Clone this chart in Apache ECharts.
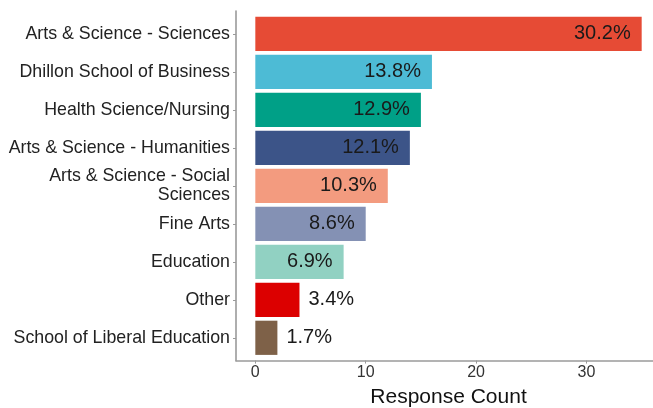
<!DOCTYPE html>
<html>
<head>
<meta charset="utf-8">
<script src="https://cdn.jsdelivr.net/npm/echarts@6/dist/echarts.min.js"></script>
<style>
  html, body { margin: 0; padding: 0; background: #fff; }
  #chart { width: 653px; height: 408px; }
</style>
</head>
<body>
<div id="chart"></div>
<script>
// Faculty / school of respondents, top to bottom
const faculties = [
  'Arts & Science - Sciences',
  'Dhillon School of Business',
  'Health Science/Nursing',
  'Arts & Science - Humanities',
  'Arts & Science - Social\nSciences',
  'Fine Arts',
  'Education',
  'Other',
  'School of Liberal Education'
];
const responseCounts = [35, 16, 15, 14, 12, 10, 8, 4, 2];
const barColors = ['#E64B35', '#4DBBD5', '#00A087', '#3C5488', '#F39B7F',
                   '#8491B4', '#91D1C2', '#DC0000', '#7E6148'];
const xTicks = [0, 10, 20, 30];

const totalResponses = responseCounts.reduce((a, b) => a + b, 0);
const FONT = 'Liberation Sans, Arial, sans-serif';

// x range padded 5% on each side of [0, max]
const xMaxData = Math.max(...responseCounts);
const xPad = xMaxData * 0.05;
const xMin = -xPad, xMax = xMaxData + xPad;

const gridSide = { left: 236, right: -8, outerBoundsMode: 'none' };
// band layout: 38px per category, 0.1 band of padding above/below
const bandH = 38;
const frameTop = 11;
const barsTop = frameTop + 0.1 * bandH;
const barsHeight = faculties.length * bandH;
const frameHeight = barsHeight + 0.2 * bandH;

const axisGrey = '#9a9a9a';

const chart = echarts.init(document.getElementById('chart'), null, { renderer: 'canvas' });

chart.setOption({
  backgroundColor: '#ffffff',
  animation: false,
  grid: [
    // frame: axis lines, x ticks and title
    Object.assign({ top: frameTop, height: frameHeight }, gridSide),
    // bars and category labels
    Object.assign({ top: barsTop, height: barsHeight }, gridSide)
  ],
  xAxis: [
    {
      gridIndex: 0,
      type: 'value',
      min: xMin, max: xMax,
      axisLine: { show: true, onZero: false, lineStyle: { color: axisGrey, width: 1.6 } },
      axisTick: { show: true, customValues: xTicks, length: 3, lineStyle: { color: axisGrey } },
      axisLabel: {
        customValues: xTicks,
        color: '#333', fontSize: 16, fontFamily: FONT, margin: 4
      },
      splitLine: { show: false },
      name: 'Response Count',
      nameLocation: 'middle',
      nameGap: 26,
      nameTextStyle: { color: '#111', fontSize: 21, fontFamily: FONT }
    },
    {
      gridIndex: 1,
      type: 'value',
      min: xMin, max: xMax,
      axisLine: { onZero: false },
      show: false
    }
  ],
  yAxis: [
    {
      gridIndex: 0,
      type: 'value',
      min: 0, max: 1,
      axisLine: { show: true, onZero: false, lineStyle: { color: axisGrey, width: 1.6 } },
      axisTick: { show: false },
      axisLabel: { show: false },
      splitLine: { show: false }
    },
    {
      gridIndex: 1,
      type: 'category',
      inverse: true,
      data: faculties,
      axisLine: { show: false, onZero: false },
      axisTick: { show: true, alignWithLabel: true, length: 3, lineStyle: { color: axisGrey } },
      axisLabel: {
        color: '#222', fontSize: 17.8, fontFamily: FONT, margin: 6,
        lineHeight: 19, align: 'right'
      },
      splitLine: { show: false }
    }
  ],
  series: [
    {
      type: 'bar',
      xAxisIndex: 1,
      yAxisIndex: 1,
      barWidth: '90%',
      data: responseCounts.map((v, i) => {
        const inside = v >= 5;
        return {
          value: v,
          itemStyle: { color: barColors[i] },
          label: {
            show: true,
            position: inside ? 'insideRight' : 'right',
            distance: inside ? 11 : 9,
            formatter: () => (v / totalResponses * 100).toFixed(1) + '%',
            color: '#1a1a1a',
            fontSize: 20,
            fontFamily: FONT
          }
        };
      })
    }
  ]
});
</script>
</body>
</html>
